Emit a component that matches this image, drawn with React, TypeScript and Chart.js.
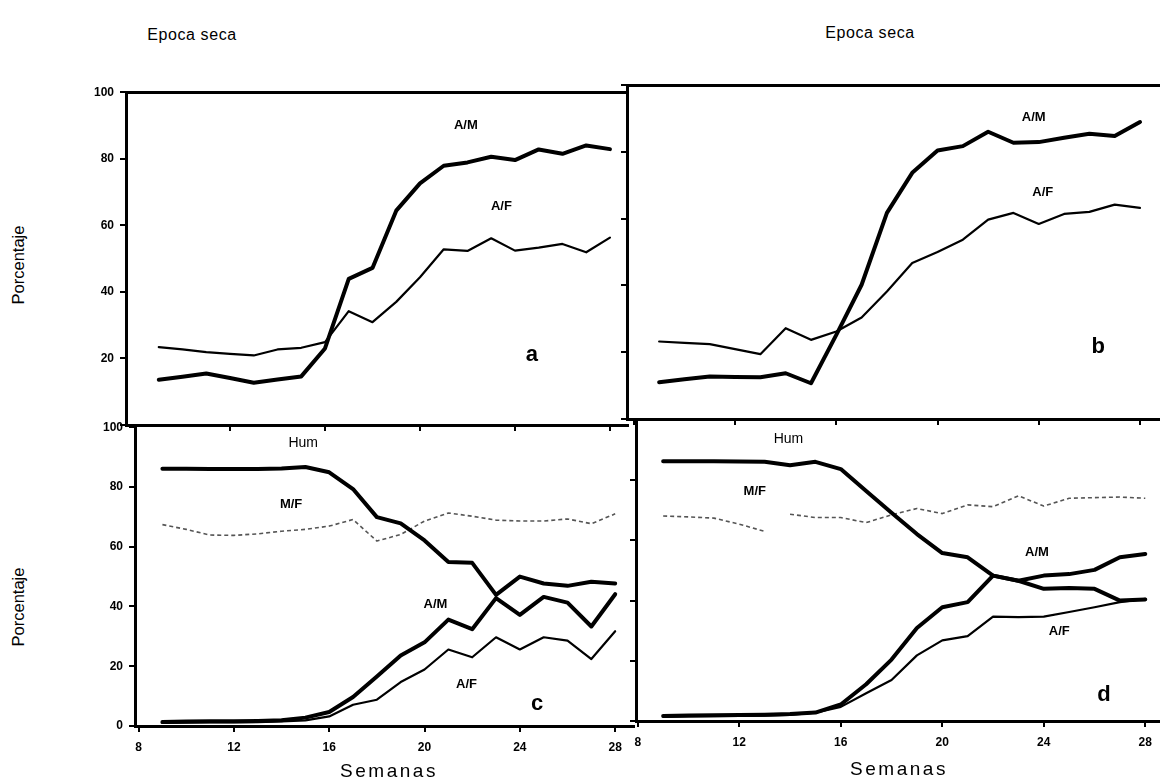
import React, { useEffect, useRef } from "react";
import { Chart, registerables } from "chart.js";

Chart.register(...registerables);

const FONT = "'Liberation Sans', Arial, Helvetica, sans-serif";

// ---------------- data ----------------
const weeks = [9, 10, 11, 12, 13, 14, 15, 16, 17, 18, 19, 20, 21, 22, 23, 24, 25, 26, 27, 28];
const xTickValues = [8, 12, 16, 20, 24, 28];
const yTickValues = [0, 20, 40, 60, 80, 100];

const nameAM = "A/M";
const nameAF = "A/F";
const nameHum = "Hum";
const nameMF = "M/F";
const panelLetters = ["a", "b", "c", "d"];
const titleText = "Epoca seca";
const yTitleText = "Porcentaje";
const xTitleText = "Semanas";

// panel a
const aAM = [13.6, 14.5, 15.5, 14.1, 12.7, 13.7, 14.6, 23.0, 43.9, 47.2, 64.4, 72.6, 77.9, 78.9, 80.6, 79.6, 82.8, 81.5, 84.0, 82.9];
const aAF = [23.4, 22.7, 21.9, 21.4, 20.9, 22.7, 23.2, 24.9, 34.2, 30.9, 37.0, 44.4, 52.8, 52.3, 56.1, 52.4, 53.3, 54.4, 51.9, 56.3];
// panel b
const bAM = [11.0, 11.9, 12.7, 12.6, 12.5, 13.7, 10.7, 25.2, 40.2, 61.7, 73.7, 80.4, 81.7, 86.0, 82.7, 82.9, 84.2, 85.4, 84.7, 88.9];
const bAF = [23.2, 22.8, 22.4, 20.9, 19.4, 27.2, 23.7, 26.2, 30.4, 38.2, 46.7, 50.0, 53.7, 59.7, 61.7, 58.4, 61.4, 62.0, 64.2, 63.2];
// panel c
const cHum = [86.1, 86.1, 86.0, 86.0, 86.0, 86.2, 86.7, 84.9, 79.3, 69.9, 67.8, 62.1, 54.9, 54.6, 43.9, 50.0, 47.7, 46.9, 48.3, 47.7];
const cMF = [67.4, 65.8, 63.9, 63.8, 64.3, 65.2, 65.8, 66.9, 69.1, 61.9, 64.1, 68.6, 71.3, 70.2, 68.9, 68.6, 68.6, 69.3, 67.7, 71.0];
const cAM = [1.3, 1.5, 1.6, 1.6, 1.7, 1.9, 2.8, 4.7, 9.7, 16.6, 23.6, 28.0, 35.6, 32.4, 42.8, 37.2, 43.2, 41.3, 33.3, 44.1];
const cAF = [1.0, 1.1, 1.2, 1.2, 1.3, 1.5, 1.9, 3.2, 7.1, 8.8, 14.7, 18.9, 25.6, 23.0, 29.7, 25.6, 29.7, 28.6, 22.4, 31.7];
// panel d
const dHum = [86.3, 86.3, 86.3, 86.2, 86.1, 85.0, 86.1, 83.7, 76.4, 69.2, 62.1, 55.8, 54.4, 48.3, 46.6, 43.9, 44.2, 43.9, 40.0, 40.4];
const dMF = [68.1, 67.8, 67.4, 65.4, 63.0, 68.7, 67.6, 67.6, 65.9, 68.5, 70.6, 68.9, 71.8, 71.2, 74.8, 71.4, 74.0, 74.2, 74.4, 74.0];
const dAM = [1.7, 1.8, 1.9, 2.0, 2.1, 2.3, 2.8, 5.5, 12.2, 20.4, 30.9, 37.8, 39.5, 48.3, 46.6, 48.3, 48.8, 50.2, 54.4, 55.5];
const dAF = [1.4, 1.5, 1.6, 1.7, 1.8, 2.0, 2.8, 4.7, 9.2, 13.6, 21.8, 26.8, 28.2, 34.7, 34.5, 34.7, 36.2, 37.8, 39.5, 40.6];
const dMFGapAfterWeek = 13;

// ---------------- layout ----------------
type Style = "thick" | "thin" | "dotted";
type Series = { label: string; values: number[]; style: Style; gapAfter?: number };
type Note = { text: string; x: number; y: number; kind: "series" | "hum" | "panel" };
type Panel = {
  id: string;
  rect: { left: number; top: number; right: number; bottom: number };
  xMin: number;
  xMax: number;
  showX: boolean;
  showY: boolean;
  hideZero: boolean;
  topBorder: boolean;
  series: Series[];
  notes: Note[];
};

const PAD_L = 46;
const PAD_B = 34;
const PAD_T = 12;
const PAD_R = 6;

const panels: Panel[] = [
  {
    id: "a",
    rect: { left: 126, top: 91, right: 628, bottom: 425 },
    xMin: 7.62,
    xMax: 28.76,
    showX: false,
    showY: true,
    hideZero: true,
    topBorder: true,
    series: [
      { label: nameAM, values: aAM, style: "thick" },
      { label: nameAF, values: aAF, style: "thin" },
    ],
    notes: [
      { text: nameAM, x: 21.93, y: 90.0, kind: "series" },
      { text: nameAF, x: 23.43, y: 65.6, kind: "series" },
      { text: panelLetters[0], x: 24.71, y: 21.2, kind: "panel" },
    ],
  },
  {
    id: "b",
    rect: { left: 627, top: 85, right: 1160, bottom: 419 },
    xMin: 7.73,
    xMax: 28.79,
    showX: false,
    showY: false,
    hideZero: true,
    topBorder: true,
    series: [
      { label: nameAM, values: bAM, style: "thick" },
      { label: nameAF, values: bAF, style: "thin" },
    ],
    notes: [
      { text: nameAM, x: 23.8, y: 90.4, kind: "series" },
      { text: nameAF, x: 24.16, y: 67.7, kind: "series" },
      { text: panelLetters[1], x: 26.35, y: 21.7, kind: "panel" },
    ],
  },
  {
    id: "c",
    rect: { left: 135, top: 426, right: 634, bottom: 726 },
    xMin: 7.85,
    xMax: 28.79,
    showX: true,
    showY: true,
    hideZero: false,
    topBorder: false,
    series: [
      { label: nameHum, values: cHum, style: "thick" },
      { label: nameMF, values: cMF, style: "dotted" },
      { label: nameAM, values: cAM, style: "thick" },
      { label: nameAF, values: cAF, style: "thin" },
    ],
    notes: [
      { text: nameHum, x: 14.91, y: 94.7, kind: "hum" },
      { text: nameMF, x: 14.4, y: 74.1, kind: "series" },
      { text: nameAM, x: 20.46, y: 40.6, kind: "series" },
      { text: nameAF, x: 21.76, y: 13.9, kind: "series" },
      { text: panelLetters[2], x: 24.72, y: 7.4, kind: "panel" },
    ],
  },
  {
    id: "d",
    rect: { left: 636, top: 420, right: 1160, bottom: 721 },
    xMin: 7.93,
    xMax: 28.58,
    showX: true,
    showY: false,
    hideZero: false,
    topBorder: false,
    series: [
      { label: nameHum, values: dHum, style: "thick" },
      { label: nameMF, values: dMF, style: "dotted", gapAfter: dMFGapAfterWeek },
      { label: nameAM, values: dAM, style: "thick" },
      { label: nameAF, values: dAF, style: "thin" },
    ],
    notes: [
      { text: nameHum, x: 13.94, y: 93.7, kind: "hum" },
      { text: nameMF, x: 12.61, y: 76.2, kind: "series" },
      { text: nameAM, x: 23.73, y: 56.0, kind: "series" },
      { text: nameAF, x: 24.61, y: 29.9, kind: "series" },
      { text: panelLetters[3], x: 26.37, y: 8.6, kind: "panel" },
    ],
  },
];

const notesPlugin = {
  id: "panelNotes",
  afterDatasetsDraw(chart: any, _args: any, opts: any) {
    const { ctx, scales } = chart;
    const notes: Note[] = (opts && opts.notes) || [];
    ctx.save();
    ctx.fillStyle = "#000";
    ctx.textAlign = "center";
    ctx.textBaseline = "middle";
    notes.forEach((n) => {
      if (n.kind === "panel") ctx.font = `bold 22px ${FONT}`;
      else if (n.kind === "hum") ctx.font = `14px ${FONT}`;
      else ctx.font = `bold 13px ${FONT}`;
      ctx.fillText(n.text, scales.x.getPixelForValue(n.x), scales.y.getPixelForValue(n.y));
    });
    ctx.restore();
  },
};

function datasetFor(s: Series) {
  const base: any = {
    label: s.label,
    data: weeks.map((w, i) => ({ x: w, y: s.values[i] })),
    pointRadius: 0,
    tension: 0,
    fill: false,
    borderJoinStyle: "round",
    borderCapStyle: "round",
    xAxisID: "x",
    yAxisID: "y",
  };
  if (s.style === "thick") {
    base.borderColor = "#000";
    base.borderWidth = 4;
  } else if (s.style === "thin") {
    base.borderColor = "#000";
    base.borderWidth = 2.2;
  } else {
    base.borderColor = "#555";
    base.borderWidth = 1.6;
    base.borderDash = [4, 3];
    base.borderCapStyle = "butt";
  }
  if (s.gapAfter != null) {
    const g = s.gapAfter;
    base.segment = {
      borderColor: (c: any) => (c.p0.parsed.x === g ? "rgba(0,0,0,0)" : undefined),
    };
  }
  return base;
}

function buildConfig(p: Panel): any {
  const tickFont = { family: FONT, size: 12, weight: "bold" as const };
  const grid = {
    display: true,
    drawOnChartArea: false,
    drawTicks: true,
    tickLength: 6,
    color: "#000",
    lineWidth: 2,
  };
  const border = { display: true, color: "#000", width: 3 };
  return {
    type: "line",
    data: { datasets: p.series.map(datasetFor) },
    plugins: [notesPlugin],
    options: {
      animation: false,
      responsive: false,
      maintainAspectRatio: false,
      events: [],
      layout: { padding: { left: 0, top: PAD_T, right: PAD_R, bottom: 0 } },
      plugins: {
        legend: { display: false },
        tooltip: { enabled: false },
        title: { display: false },
        panelNotes: { notes: p.notes },
      },
      scales: {
        x: {
          type: "linear",
          position: "bottom",
          min: p.xMin,
          max: p.xMax,
          grid,
          border,
          afterBuildTicks: (scale: any) => {
            scale.ticks = xTickValues.map((v) => ({ value: v }));
          },
          afterFit: (scale: any) => {
            scale.height = PAD_B;
          },
          ticks: {
            display: p.showX,
            font: tickFont,
            color: "#000",
            padding: 8,
            maxRotation: 0,
            autoSkip: false,
            callback: (v: any) => String(v),
          },
        },
        xTop: {
          type: "linear",
          position: "top",
          display: p.topBorder,
          min: p.xMin,
          max: p.xMax,
          grid: { display: false, drawTicks: false },
          border,
          ticks: { display: false },
          afterFit: (scale: any) => {
            scale.height = 0;
          },
        },
        y: {
          type: "linear",
          position: "left",
          min: 0,
          max: 100,
          grid,
          border,
          afterBuildTicks: (scale: any) => {
            scale.ticks = yTickValues.map((v) => ({ value: v }));
          },
          afterFit: (scale: any) => {
            scale.width = PAD_L;
          },
          ticks: {
            display: p.showY,
            font: tickFont,
            color: "#000",
            padding: 6,
            autoSkip: false,
            callback: (v: any) => (p.hideZero && v === 0 ? "" : String(v)),
          },
        },
      },
    },
  };
}

function PanelChart({ panel }: { panel: Panel }) {
  const ref = useRef<HTMLCanvasElement | null>(null);
  const { left, top, right, bottom } = panel.rect;
  const w = right - left + PAD_L + PAD_R;
  const h = bottom - top + PAD_T + PAD_B;
  useEffect(() => {
    if (!ref.current) return;
    const chart = new Chart(ref.current, buildConfig(panel));
    return () => chart.destroy();
  }, [panel]);
  return (
    <canvas
      ref={ref}
      width={w}
      height={h}
      style={{ position: "absolute", left: left - PAD_L, top: top - PAD_T, width: w, height: h }}
    />
  );
}

function Label({ text, x, y, size, rotate, spacing }: { text: string; x: number; y: number; size: number; rotate?: boolean; spacing?: number }) {
  return (
    <div
      style={{
        position: "absolute",
        left: x,
        top: y,
        transform: `translate(-50%, -50%)${rotate ? " rotate(-90deg)" : ""}`,
        fontFamily: FONT,
        fontSize: size,
        letterSpacing: spacing ? `${spacing}px` : undefined,
        lineHeight: 1,
        whiteSpace: "nowrap",
        color: "#000",
      }}
    >
      {text}
    </div>
  );
}

export default function App() {
  return (
    <div
      style={{
        position: "absolute",
        left: 0,
        top: 0,
        width: 1160,
        height: 782,
        overflow: "hidden",
        background: "#fff",
      }}
    >
      {panels.map((p) => (
        <PanelChart key={p.id} panel={p} />
      ))}
      <Label text={titleText} x={192} y={35} size={16} spacing={0.6} />
      <Label text={titleText} x={870} y={33} size={16} spacing={0.6} />
      <Label text={yTitleText} x={18} y={265} size={16.5} rotate />
      <Label text={yTitleText} x={18} y={607} size={16.5} rotate />
      <Label text={xTitleText} x={389} y={770} size={19} spacing={2.5} />
      <Label text={xTitleText} x={899} y={768} size={19} spacing={2.5} />
    </div>
  );
}
